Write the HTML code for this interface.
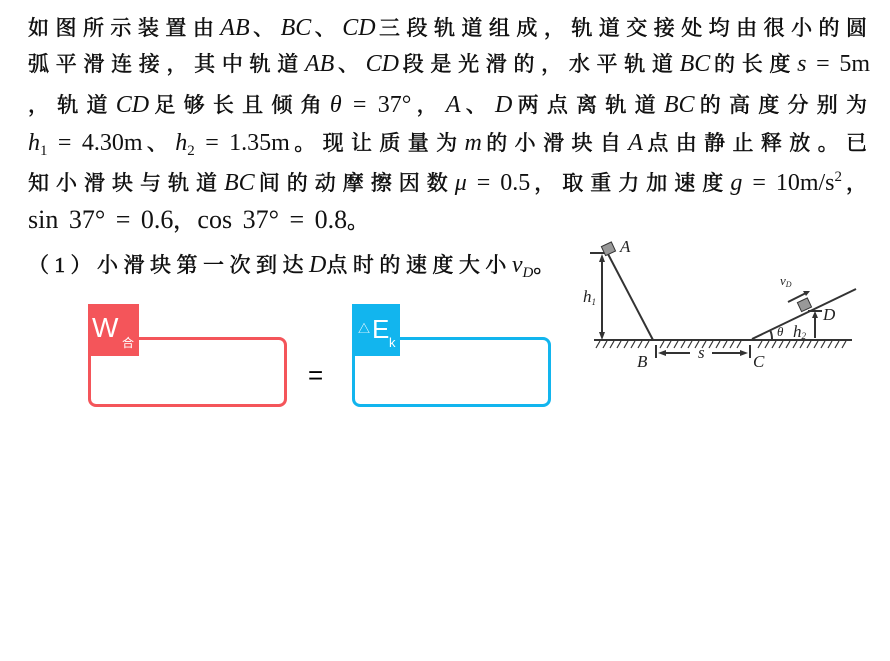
<!DOCTYPE html>
<html><head><meta charset="utf-8"><style>
body{margin:0;background:#fff;width:890px;height:661px;overflow:hidden;position:relative;font-family:"Liberation Serif","Noto Serif CJK SC",serif;}
.l{position:absolute;left:28px;width:842px;font-size:21px;line-height:30px;height:30px;white-space:nowrap;color:#111;font-family:"Liberation Serif","Noto Serif CJK SC",serif;letter-spacing:3px;-webkit-text-stroke:0.6px #111}
.j{text-align:justify;text-align-last:justify;white-space:normal}
i,.n{font-size:24px;letter-spacing:0;-webkit-text-stroke:0}
i{font-style:italic}
.s{position:relative;font-size:15px;letter-spacing:0;-webkit-text-stroke:0}
.box{position:absolute;border:3px solid;border-radius:8px;box-sizing:border-box}
.tag{position:absolute;color:#fff;font-family:"Liberation Sans","Noto Sans CJK SC",sans-serif}
</style></head><body>
<div class="l j" style="top:13px">如图所示装置由<i>AB</i>、<i>BC</i>、<i>CD</i>三段轨道组成，轨道交接处均由很小的圆</div>
<div class="l j" style="top:49px">弧平滑连接，其中轨道<i>AB</i>、<i>CD</i>段是光滑的，水平轨道<i>BC</i>的长度<i>s</i><span class="n"> = 5m</span></div>
<div class="l j" style="top:90px">，轨道<i>CD</i>足够长且倾角<i>θ</i><span class="n"> = 37°</span>，<i>A</i>、<i>D</i>两点离轨道<i>BC</i>的高度分别为</div>
<div class="l j" style="top:128px"><i>h</i><span class="s" style="top:5px">1</span><span class="n"> = 4.30m</span>、<i>h</i><span class="s" style="top:5px">2</span><span class="n"> = 1.35m</span>。现让质量为<i>m</i>的小滑块自<i>A</i>点由静止释放。已</div>
<div class="l j" style="top:168px">知小滑块与轨道<i>BC</i>间的动摩擦因数<i>μ</i><span class="n"> = 0.5</span>，取重力加速度<i>g</i><span class="n"> = 10m/s</span><span class="s" style="top:-9px">2</span>，</div>
<div class="l" style="top:205px"><span class="n" style="font-size:26px;word-spacing:4px">sin 37° = 0.6</span>，<span class="n" style="font-size:26px;word-spacing:4px">cos 37° = 0.8</span>。</div>
<div class="l" style="top:250px;letter-spacing:5.5px">（1）小滑块第一次到达<i>D</i>点时的速度大小<i>v</i><span class="s" style="top:5px;font-style:italic">D</span>。</div>

<div class="box" style="left:88px;top:337px;width:199px;height:70px;border-color:#f4555a"></div>
<div class="tag" style="left:88px;top:304px;width:51px;height:52px;background:#f4555a"><span style="position:absolute;left:4px;top:8px;font-size:28px">W</span><span style="position:absolute;left:34px;top:30px;font-size:12px">合</span></div>
<div style="position:absolute;left:308px;top:360px;font-size:26px;font-family:'Liberation Sans',sans-serif">=</div>
<div class="box" style="left:352px;top:337px;width:199px;height:70px;border-color:#12b5ee"></div>
<div class="tag" style="left:352px;top:304px;width:48px;height:52px;background:#12b5ee"><span style="position:absolute;left:6px;top:16px;font-size:12px">△</span><span style="position:absolute;left:20px;top:10px;font-size:26px">E</span><span style="position:absolute;left:37px;top:31px;font-size:13px">k</span></div>

<svg style="position:absolute;left:0;top:0" width="890" height="661">
<g stroke="#333" stroke-width="2" fill="none">
<line x1="594" y1="340" x2="852" y2="340"/>
<path d="M596 348 l4 -7 M603 348 l4 -7 M610 348 l4 -7 M617 348 l4 -7 M624 348 l4 -7 M631 348 l4 -7 M638 348 l4 -7 M645 348 l4 -7 M660 348 l4 -7 M667 348 l4 -7 M674 348 l4 -7 M681 348 l4 -7 M688 348 l4 -7 M695 348 l4 -7 M702 348 l4 -7 M709 348 l4 -7 M716 348 l4 -7 M723 348 l4 -7 M730 348 l4 -7 M737 348 l4 -7 M758 348 l4 -7 M765 348 l4 -7 M772 348 l4 -7 M779 348 l4 -7 M786 348 l4 -7 M793 348 l4 -7 M800 348 l4 -7 M807 348 l4 -7 M814 348 l4 -7 M821 348 l4 -7 M828 348 l4 -7 M835 348 l4 -7 M842 348 l4 -7" stroke-width="1.2"/>
<line x1="608" y1="254" x2="653" y2="340"/>
<line x1="590" y1="253" x2="606" y2="253"/>
<line x1="602" y1="258" x2="602" y2="336"/>
<line x1="752" y1="339" x2="856" y2="289"/>
<line x1="656" y1="345" x2="656" y2="358"/><line x1="750" y1="345" x2="750" y2="358"/>
<line x1="662" y1="353" x2="690" y2="353"/><line x1="712" y1="353" x2="744" y2="353"/>
<line x1="815" y1="338" x2="815" y2="314"/>
<line x1="808" y1="311" x2="822" y2="311"/>
<path d="M772 339 a20 20 0 0 0 -2 -9"/>
<line x1="788" y1="302" x2="808" y2="292"/>
</g>
<g fill="#333">
<path d="M602 254 l-3 8 h6z"/><path d="M602 340 l-3 -8 h6z"/>
<path d="M658 353 l8 -3 v6z"/><path d="M748 353 l-8 -3 v6z"/>
<path d="M815 311 l-3 7 h6z"/>
<path d="M810 291 l-7 0 l3 5z"/>
</g>
<rect x="603" y="244" width="11" height="10" fill="#999" stroke="#333" transform="rotate(-25 608 249)"/>
<rect x="799" y="300" width="11" height="10" fill="#999" stroke="#333" transform="rotate(-25 804 305)"/>
<g font-family="Liberation Serif" font-style="italic" font-size="17" fill="#222">
<text x="620" y="252">A</text><text x="583" y="302">h<tspan font-size="9" dy="3">1</tspan></text>
<text x="637" y="367">B</text><text x="698" y="358">s</text><text x="753" y="367">C</text>
<text x="823" y="320">D</text><text x="777" y="336" font-size="13">θ</text>
<text x="793" y="337">h<tspan font-size="9" dy="2">2</tspan></text>
<text x="780" y="285" font-size="13">v<tspan font-size="8" dy="2">D</tspan></text>
</g>
</svg>
</body></html>
